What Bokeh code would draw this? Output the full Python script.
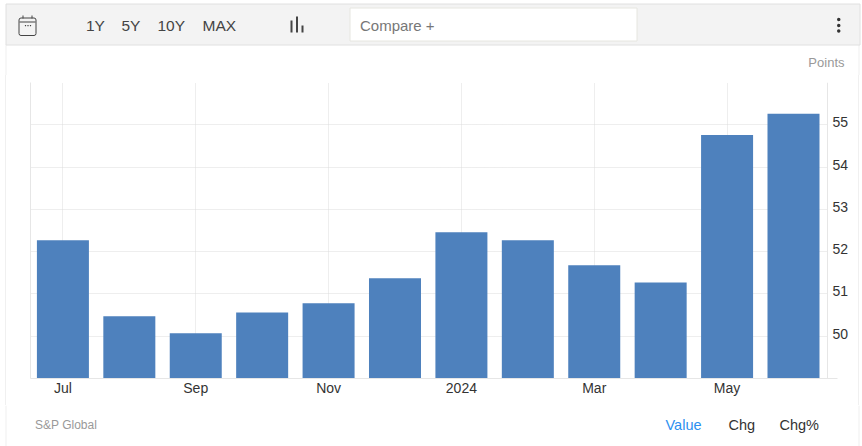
from bokeh.plotting import figure
from bokeh.embed import file_html
from bokeh.resources import INLINE
from bokeh.layouts import column, row
from bokeh.models import (BoxAnnotation, Label, FixedTicker, LinearAxis, Range1d, Grid, Span, Spacer)

# ---- data ----
months = ["Jul", "Aug", "Sep", "Oct", "Nov", "Dec", "Jan", "Feb", "Mar", "Apr", "May", "Jun"]
values = [52.27, 50.47, 50.07, 50.56, 50.78, 51.37, 52.46, 52.27, 51.68, 51.27, 54.76, 55.26]
x_tick_labels = {0: "Jul", 2: "Sep", 4: "Nov", 6: "2024", 8: "Mar", 10: "May"}
y_ticks = [50, 51, 52, 53, 54, 55]
y_grid = [50, 51, 52, 53, 54, 55, 56]
range_buttons = ["1Y", "5Y", "10Y", "MAX"]
value_tabs = ["Value", "Chg", "Chg%"]

W, H = 862, 446
FONT = "Liberation Sans"
TOP_H, MAIN_H = 75, 330
FOOT_H = H - TOP_H - MAIN_H
MAIN_X0, MAIN_X1 = 6, 858
SLOT = (827 - 30) / 12           # pixels per month
EXTRA = 10 / SLOT                # axis stub right of the last slot
SHIFT = 0.012                    # sub-pixel alignment of the bars
PX_PER_UNIT = (378 - 82) / 7

# ---- main chart ----
p = figure(width=MAIN_X1 - MAIN_X0, height=MAIN_H, output_backend="svg", toolbar_location=None,
           x_range=Range1d(-0.5 + SHIFT, 11.5 + EXTRA + SHIFT), y_range=Range1d(49, 56),
           x_axis_location=None, y_axis_location=None,
           min_border_left=30 - MAIN_X0, min_border_right=MAIN_X1 - 837,
           min_border_top=82 - TOP_H, min_border_bottom=TOP_H + MAIN_H - 378,
           outline_line_color=None, background_fill_color="white", border_fill_color="white")
p.grid.visible = False
lift = 2.5 / PX_PER_UNIT
p.extra_y_ranges = {"labels": Range1d(49 - lift, 56 - lift)}

p.vbar(x=list(range(len(months))), top=values, bottom=49, width=0.783,
       fill_color="#4e81bd", line_color=None)

xax = LinearAxis(ticker=FixedTicker(ticks=list(x_tick_labels)),
                 major_label_overrides=x_tick_labels)
xax.axis_line_color = "#e6e6e6"
xax.major_tick_line_color = None
xax.minor_tick_line_color = None
xax.major_tick_out = 0
xax.major_tick_in = 0
xax.major_label_text_font = FONT
xax.major_label_text_font_size = "14px"
xax.major_label_text_color = "#333333"
xax.major_label_standoff = 1
p.add_layout(xax, "below")

yax = LinearAxis(ticker=FixedTicker(ticks=y_ticks), y_range_name="labels")
yax.axis_line_color = None
yax.major_tick_line_color = None
yax.minor_tick_line_color = None
yax.major_tick_out = 0
yax.major_tick_in = 0
yax.major_label_text_font = FONT
yax.major_label_text_font_size = "14px"
yax.major_label_text_color = "#333333"
yax.major_label_standoff = -5
p.add_layout(yax, "right")

lax = LinearAxis(ticker=FixedTicker(ticks=[]), major_label_text_font_size="0px")
lax.axis_line_color = "#e6e6e6"
lax.major_tick_line_color = None
lax.minor_tick_line_color = None
lax.major_tick_out = 0
lax.major_tick_in = 0
p.add_layout(lax, "left")

p.add_layout(Grid(dimension=0, ticker=FixedTicker(ticks=list(x_tick_labels)),
                  grid_line_color="#dddddd", grid_line_dash="1 1", level="underlay"))
p.add_layout(Grid(dimension=1, ticker=FixedTicker(ticks=y_grid),
                  grid_line_color="#dddddd", grid_line_dash="1 1", level="underlay"))
# the horizontal rules stop at the right axis, only the frame edges run on
p.add_layout(BoxAnnotation(left=11.5 + SHIFT, right=11.5 + EXTRA + SHIFT, bottom=49, top=55.98,
                           fill_color="white", fill_alpha=1, line_color=None,
                           level="underlay"))
p.add_layout(Span(location=11.5 + SHIFT, dimension="height", line_color="#e6e6e6", line_width=1))


# ---- chrome: figures whose data coordinates are the page's pixels ----
def chrome(y0, y1):
    f = figure(width=W, height=y1 - y0, output_backend="svg", toolbar_location=None,
               x_range=Range1d(0, W), y_range=Range1d(y1, y0),
               x_axis_location=None, y_axis_location=None,
               min_border=0, min_border_left=0, min_border_right=0,
               min_border_top=0, min_border_bottom=0,
               outline_line_color=None, background_fill_color="white",
               border_fill_color="white")
    f.grid.visible = False
    return f


def box(f, l, r, t, b, fill="#444444", line=None, radius=0):
    f.add_layout(BoxAnnotation(left=l, right=r, top=t, bottom=b,
                               fill_color=fill, fill_alpha=1 if fill else 0,
                               line_color=line, line_alpha=1 if line else 0,
                               line_width=1, border_radius=radius, level="overlay"))


def text(f, x, y, s, size, color, align="left"):
    f.add_layout(Label(x=x, y=y, text=s, text_font=FONT, text_font_size=size,
                       text_color=color, text_align=align, text_baseline="middle",
                       level="overlay"))


top = chrome(0, TOP_H)
box(top, 5, 6, 44, TOP_H, fill="#f0f0f0")
box(top, 858, 859, 44, TOP_H, fill="#f0f0f0")
box(top, 5.5, 859.5, 3.5, 44.5, fill="#f3f3f3", line="#e0e0e0")
box(top, 349.5, 636.5, 7.5, 40.5, fill="#ffffff", line="#e6e6e0")
# calendar icon
box(top, 18.5, 35.5, 17.5, 35, fill=None, line="#444444", radius=2)
box(top, 19, 35, 21, 22, fill="#444444")
box(top, 22, 23, 15, 18, fill="#444444")
box(top, 31, 32, 15, 18, fill="#444444")
for cx in (25, 27.5, 30):
    box(top, cx - 0.6, cx + 0.6, 24.5, 25.7, fill="#444444")
# chart-type icon
box(top, 290, 292, 20, 32, fill="#444444")
box(top, 295.5, 297.5, 16, 32, fill="#444444")
box(top, 301, 303, 25, 32, fill="#444444")
# menu dots
for cy in (19, 25, 30.5):
    box(top, 836.5, 840, cy - 1.7, cy + 1.7, fill="#333333", radius=2)
for s, x in zip(range_buttons, (85.5, 121, 157, 202)):
    text(top, x, 25, s, "15.5px", "#444444")
text(top, 359.5, 24.5, "Compare +", "15px", "#777777")
text(top, 844, 61.5, "Points", "13px", "#999999", align="right")

foot = chrome(TOP_H + MAIN_H, H)
box(foot, 5, 6, TOP_H + MAIN_H, H, fill="#f0f0f0")
box(foot, 858, 859, TOP_H + MAIN_H, H, fill="#f0f0f0")
text(foot, 34.5, 424.5, "S&P Global", "12px", "#999999")
for s, x, c in zip(value_tabs, (665, 728, 779), ("#2d8ff0", "#333333", "#333333")):
    text(foot, x, 424.5, s, "14.5px", c)


def strip(w, colour):
    return Spacer(width=w, height=MAIN_H, styles={"background-color": colour})


middle = row(strip(5, "white"), strip(1, "#f0f0f0"), p, strip(1, "#f0f0f0"), strip(3, "white"),
             spacing=0)
page = column(top, middle, foot, spacing=0)

open("out.html", "w").write(file_html(page, INLINE))
